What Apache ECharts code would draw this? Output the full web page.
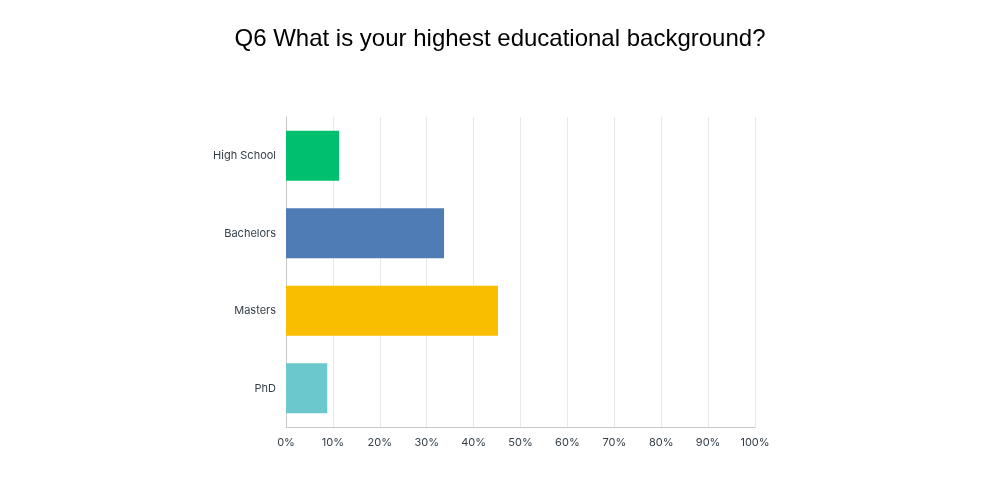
<!DOCTYPE html>
<html>
<head>
<meta charset="utf-8">
<script src="https://cdn.jsdelivr.net/npm/echarts@6/dist/echarts.min.js"></script>
<style>
html,body{margin:0;padding:0;background:#fff;}
#chart{width:1000px;height:500px;}
</style>
</head>
<body>
<div id="chart"></div>
<script>
var categories = ['High School', 'Bachelors', 'Masters', 'PhD'];
var values = [11.3, 33.7, 45.2, 8.8];
var colors = ['#00BF6F', '#507CB6', '#F9BE00', '#6BC8CD'];
var ticks = [0, 10, 20, 30, 40, 50, 60, 70, 80, 90, 100];

var myChart = echarts.init(document.getElementById('chart'));
var option = {
	animation: false,
	title: {
		text: 'Q6 What is your highest educational background?',
		left: 'center',
		top: 22,
		textStyle: {fontFamily: 'Liberation Sans', fontSize: 24, fontWeight: 'normal', color: '#000'}
	},
	grid: {left: 286, right: 245, top: 117, bottom: 73},
	xAxis: {
		type: 'value',
		min: ticks[0],
		max: ticks[ticks.length - 1],
		interval: 10,
		axisLine: {show: true, lineStyle: {color: '#c8c8c8'}},
		axisTick: {show: false},
		splitLine: {lineStyle: {color: '#e8e8e8'}},
		axisLabel: {formatter: '{value}%', color: '#333e48', fontFamily: 'Inter', fontSize: 11, margin: 10}
	},
	yAxis: {
		type: 'category',
		inverse: true,
		data: categories,
		axisLine: {show: true, lineStyle: {color: '#c8c8c8'}},
		axisTick: {show: false},
		axisLabel: {color: '#333e48', fontFamily: 'Inter', fontSize: 11, margin: 10}
	},
	series: [{
		type: 'bar',
		barWidth: 50,
		data: values.map(function(v, i){
			return {value: v, itemStyle: {color: colors[i]}};
		})
	}]
};
myChart.setOption(option);
</script>
</body>
</html>
